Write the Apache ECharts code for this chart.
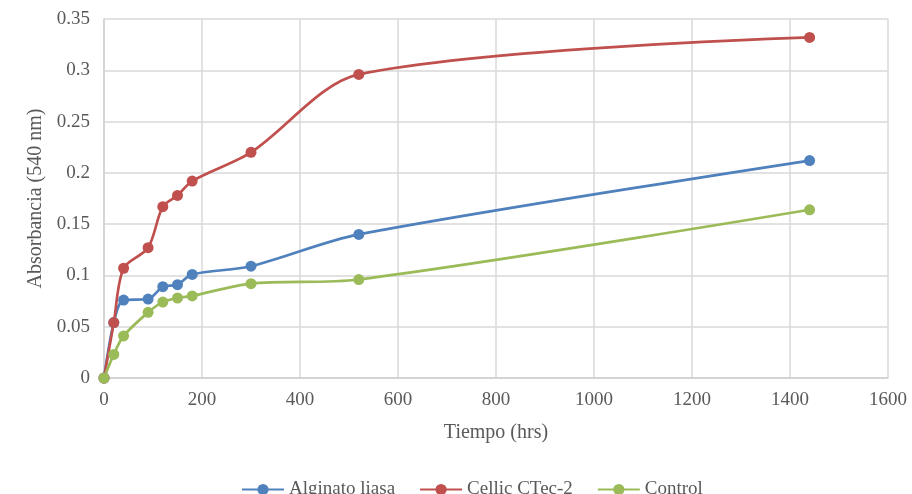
<!DOCTYPE html>
<html>
<head>
<meta charset="utf-8">
<script src="https://cdn.jsdelivr.net/npm/echarts@6/dist/echarts.min.js"></script>
<style>
  html, body { margin: 0; padding: 0; background: #fff; }
  #chart { width: 912px; height: 494px; }
</style>
</head>
<body>
<div id="chart"></div>
<script>
// Sampling times (hrs)
const tiempo = [0, 20, 40, 90, 120, 150, 180, 300, 520, 1440];

// Absorbance at 540 nm per treatment
const alginatoLiasa = [0, 0.054, 0.076, 0.077, 0.089, 0.091, 0.101, 0.109, 0.140, 0.212];
const cellicCTec2   = [0, 0.054, 0.107, 0.127, 0.167, 0.178, 0.192, 0.220, 0.296, 0.332];
const control       = [0, 0.023, 0.041, 0.064, 0.074, 0.078, 0.080, 0.092, 0.096, 0.164];

const seriesNames  = ['Alginato liasa', 'Cellic CTec-2', 'Control'];
const seriesColors = ['#4F81BD', '#C0504D', '#9BBB59'];

const FONT = 'Liberation Serif';
const pairs = (ys) => tiempo.map((t, i) => [t, ys[i]]);

const chart = echarts.init(document.getElementById('chart'));
chart.setOption({
  animation: false,
  grid: { left: 104, right: 24, top: 19, bottom: 116 },
  xAxis: {
    type: 'value', min: 0, max: 1600, interval: 200,
    name: 'Tiempo (hrs)', nameLocation: 'middle', nameGap: 45,
    nameTextStyle: { fontFamily: FONT, fontSize: 20, color: '#595959' },
    axisLine: { show: true, lineStyle: { color: '#d0d0d0', width: 1.5 } },
    axisTick: { show: false },
    axisLabel: {
      fontFamily: FONT, fontSize: 19, color: '#595959', margin: 13,
      formatter: (v) => String(v)
    },
    splitLine: { show: true, lineStyle: { color: '#d9d9d9', width: 1.5 } }
  },
  yAxis: {
    type: 'value', min: 0, max: 0.35, interval: 0.05,
    name: 'Absorbancia (540 nm)', nameLocation: 'middle', nameGap: 58,
    nameTextStyle: { fontFamily: FONT, fontSize: 20, color: '#595959' },
    axisLine: { show: true, lineStyle: { color: '#d0d0d0', width: 1.5 } },
    axisTick: { show: false },
    axisLabel: {
      fontFamily: FONT, fontSize: 19, color: '#595959', margin: 14,
      formatter: (v) => String(Math.round(v * 100) / 100)
    },
    splitLine: { show: true, lineStyle: { color: '#d9d9d9', width: 1.5 } }
  },
  legend: {
    top: 475, left: 236, itemGap: 24, itemWidth: 42, itemHeight: 14,
    textStyle: { fontFamily: FONT, fontSize: 19, color: '#595959' },
    data: seriesNames
  },
  series: [alginatoLiasa, cellicCTec2, control].map((ys, i) => ({
    name: seriesNames[i],
    type: 'line',
    data: pairs(ys),
    smooth: 0.3,
    symbol: 'circle',
    symbolSize: 11,
    color: seriesColors[i],
    lineStyle: { width: 2.7, color: seriesColors[i] },
    itemStyle: { color: seriesColors[i] }
  }))
});
</script>
</body>
</html>
